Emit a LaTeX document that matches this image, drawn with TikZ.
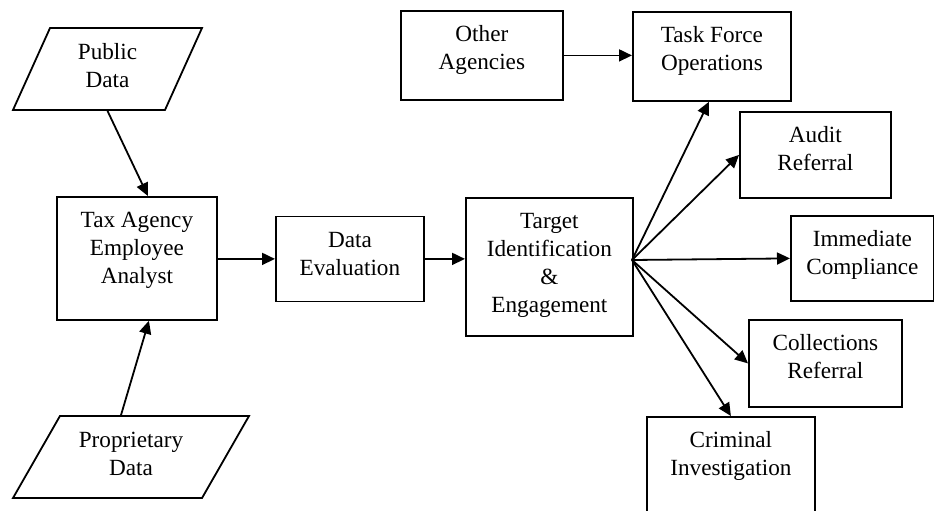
\documentclass[tikz,border=0pt]{standalone}
\usepackage{fontspec}
\setmainfont{Liberation Serif}
\usetikzlibrary{shapes.geometric,arrows.meta}

\tikzset{
  box/.style={draw, anchor=north west, inner sep=0pt, align=center,
    text height=29.5pt},
  datain/.style={draw, shape=trapezium, trapezium stretches body,
    inner sep=0pt, align=center, text height=29.5pt, text depth=11.5pt,
    minimum height=41pt},
  flow/.style={-{Triangle[length=6.5pt,width=6pt]}}
}

\begin{document}
\begin{tikzpicture}[x=0.5pt, y=-0.5pt, line width=0.9pt,
    font=\fontsize{11.6}{14}\selectfont]
  \useasboundingbox (0,0) rectangle (934,510);
  \clip (0,0) rectangle (934,510);

  \node (public) at (107.5,69) [datain, trapezium left angle=65.7,
    trapezium right angle=114.3, minimum width=94.5pt] {Public\\Data};
  \node (prop) at (131,457) [datain, trapezium left angle=60.2,
    trapezium right angle=119.8, minimum width=118pt] {Proprietary\\Data};

  \node (tax) at (56,196) [box, minimum width=80pt, text height=43.5pt, text depth=18pt] {Tax Agency\\Employee\\Analyst};
  \node (eval) at (275,215.5) [box, minimum width=74pt, text depth=13pt] {Data\\Evaluation};
  \node (target) at (465,197) [box, minimum width=83.5pt, text height=57.5pt, text depth=11.5pt] {Target\\Identification\\\&\\Engagement};

  \node (other) at (400,10) [box, minimum width=81pt, text depth=15pt] {Other\\Agencies};
  \node (task) at (632,11) [box, minimum width=79pt, text depth=15pt] {Task Force\\Operations};
  \node (audit) at (739,111) [box, minimum width=75.5pt, text depth=13.5pt] {Audit\\Referral};
  \node (comply) at (790,215) [box, minimum width=71.5pt, text depth=13pt] {Immediate\\Compliance};
  \node (collect) at (748,319) [box, minimum width=76.5pt, text depth=14pt] {Collections\\Referral};
  \node (crime) at (646,416) [box, minimum width=84pt, text depth=35.5pt] {Criminal\\Investigation};

  \coordinate (fan) at (632,260);

  \draw[flow] (public.south) -- ([xshift=5.5pt]tax.north);
  \draw[flow] ([xshift=-5pt]prop.north) -- ([xshift=6pt]tax.south);
  \draw[flow] (tax.east |- eval.east) -- (eval.east -| eval.west);
  \draw[flow] (eval.east) -- (eval.east -| target.west);
  \draw[flow] (other.east) -- (task.west |- other.east);

  \draw[flow] (fan) -- ([xshift=-1.5pt]task.south);
  \draw[flow] (fan) -- (audit.west);
  \draw[flow] (fan) -- (comply.west);
  \draw[flow] (fan) -- (collect.west);
  \draw[flow] (fan) -- (crime.north);
\end{tikzpicture}
\end{document}
